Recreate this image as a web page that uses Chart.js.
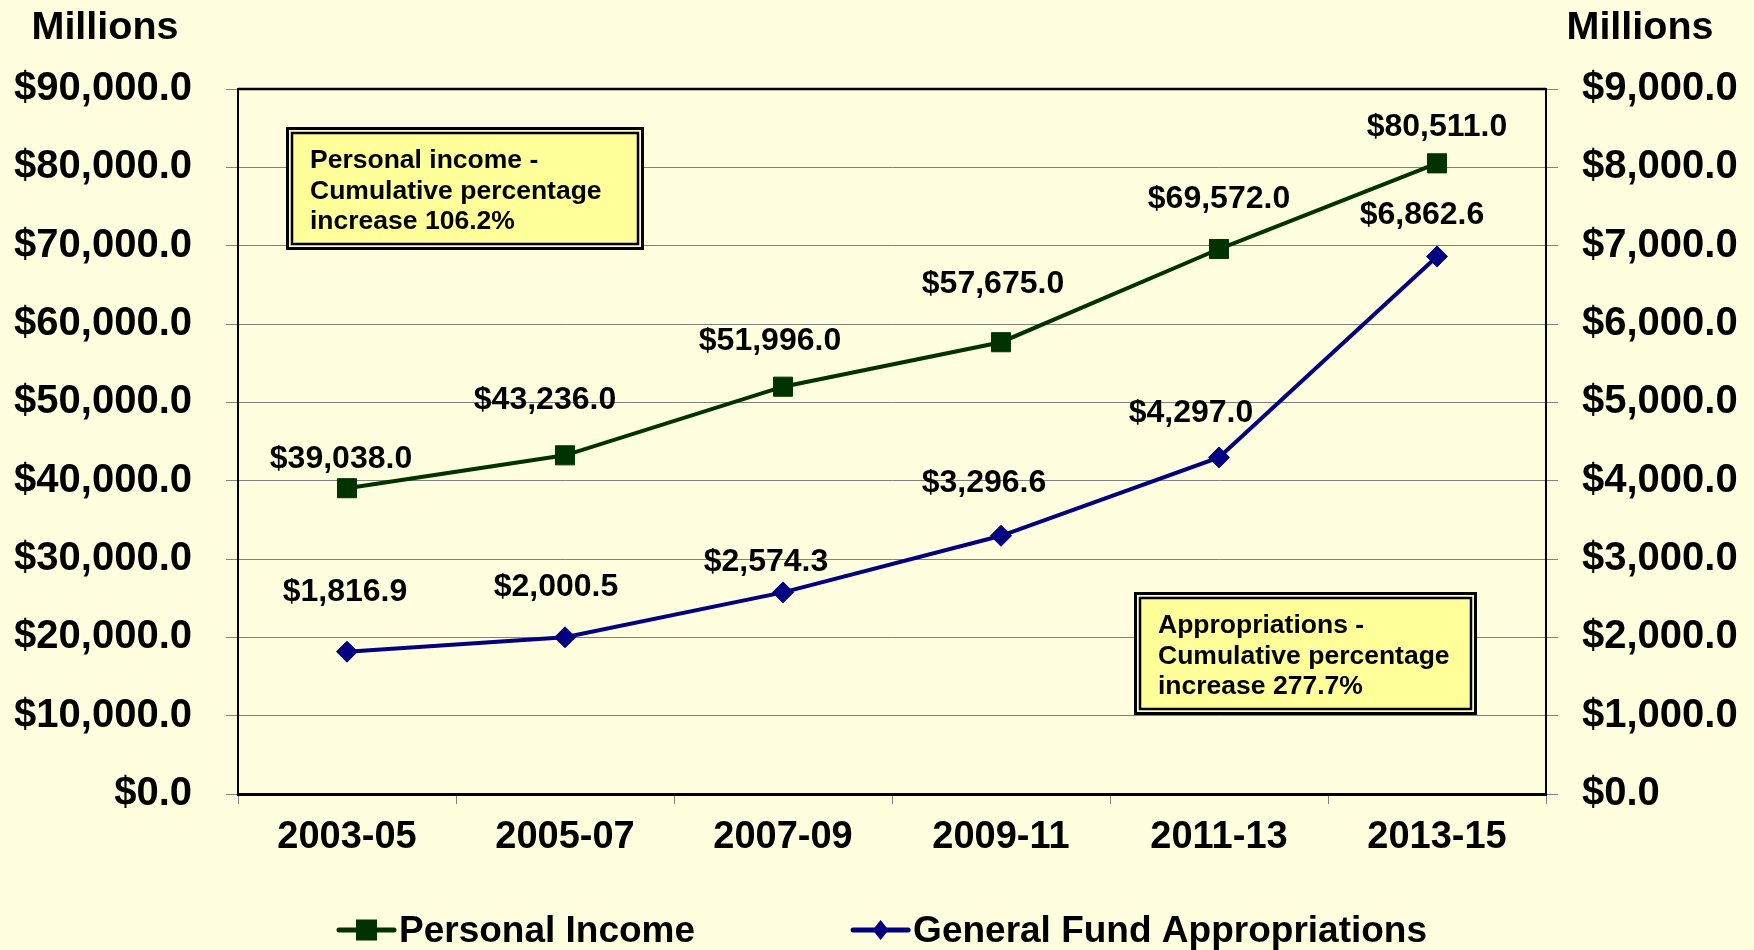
<!DOCTYPE html>
<html>
<head>
<meta charset="utf-8">
<script src="https://cdn.jsdelivr.net/npm/chart.js@4.4.0/dist/chart.umd.min.js"></script>
<style>
  html, body { margin: 0; padding: 0; background: #FFFFE0; }
  canvas { display: block; }
</style>
</head>
<body>
<canvas id="c" width="1754" height="950"></canvas>
<script>
// ---------- data ----------
const categories = ['2003-05', '2005-07', '2007-09', '2009-11', '2011-13', '2013-15'];
const personalIncome = [39038.0, 43236.0, 51996.0, 57675.0, 69572.0, 80511.0];
const appropriations = [1816.9, 2000.5, 2574.3, 3296.6, 4297.0, 6862.6];
const leftTicks = [0, 10000, 20000, 30000, 40000, 50000, 60000, 70000, 80000, 90000];
const rightTicks = [0, 1000, 2000, 3000, 4000, 5000, 6000, 7000, 8000, 9000];
const seriesNames = ['Personal Income', 'General Fund Appropriations'];
const unitLabel = 'Millions';
const noteIncome = ['Personal income -', 'Cumulative percentage', 'increase 106.2%'];
const noteApprop = ['Appropriations -', 'Cumulative percentage', 'increase 277.7%'];

// ---------- layout / style ----------
const FONT = "'Liberation Sans', Arial, Helvetica, sans-serif";
const GREEN = '#003300';
const BLUE = '#000080';
const GRID = '#808080';
// label offsets (px) relative to each point, as placed in the original
const incomeLabelOffsets = [[-6, -29], [-20, -55], [-13, -46], [-8, -58], [0, -50], [0, -36]];
const appropLabelOffsets = [[-2, -60], [-9, -50], [-17, -30], [-17, -53], [-28, -44], [-15, -41]];
const noteBoxes = [
  { x: 286, y: 127, w: 358, h: 123, lines: noteIncome },
  { x: 1134, y: 592, w: 343, h: 123, lines: noteApprop }
];

const fmt = v => '$' + Number(v).toLocaleString('en-US', { minimumFractionDigits: 1, maximumFractionDigits: 1 });

const plotFrame = {
  id: 'plotFrame',
  beforeDatasetsDraw(chart) {
    const { ctx, chartArea: a } = chart;
    ctx.save();
    ctx.strokeStyle = '#000';
    ctx.lineWidth = 2.5;
    ctx.beginPath();
    ctx.moveTo(a.left, a.top);
    ctx.lineTo(a.right, a.top);
    ctx.stroke();
    ctx.restore();
  }
};

const notes = {
  id: 'notes',
  afterDatasetsDraw(chart) {
    const ctx = chart.ctx;
    ctx.save();
    noteBoxes.forEach(b => {
      ctx.fillStyle = '#FFFFCC';
      ctx.fillRect(b.x, b.y, b.w, b.h);
      ctx.fillStyle = '#FFFF99';
      ctx.fillRect(b.x + 7, b.y + 7, b.w - 14, b.h - 14);
      ctx.strokeStyle = '#000';
      ctx.lineWidth = 3;
      ctx.strokeRect(b.x + 1.5, b.y + 1.5, b.w - 3, b.h - 3);
      ctx.lineWidth = 2.5;
      ctx.strokeRect(b.x + 6, b.y + 6, b.w - 12, b.h - 12);
      ctx.fillStyle = '#000';
      ctx.font = 'bold 26.5px ' + FONT;
      ctx.textAlign = 'left';
      ctx.textBaseline = 'alphabetic';
      b.lines.forEach((t, i) => ctx.fillText(t, b.x + 24, b.y + 41 + i * 30.5));
    });
    ctx.restore();
  }
};

const dataLabels = {
  id: 'dataLabels',
  afterDatasetsDraw(chart) {
    const ctx = chart.ctx;
    ctx.save();
    ctx.fillStyle = '#000';
    ctx.font = 'bold 32px ' + FONT;
    ctx.textAlign = 'center';
    ctx.textBaseline = 'middle';
    const offs = [incomeLabelOffsets, appropLabelOffsets];
    chart.data.datasets.forEach((ds, di) => {
      const meta = chart.getDatasetMeta(di);
      meta.data.forEach((pt, i) => {
        const o = offs[di][i];
        ctx.fillText(fmt(ds.data[i]), pt.x + o[0], pt.y + o[1]);
      });
    });
    ctx.restore();
  }
};

const unitTitles = {
  id: 'unitTitles',
  afterDraw(chart) {
    const ctx = chart.ctx;
    ctx.save();
    ctx.fillStyle = '#000';
    ctx.font = 'bold 39.5px ' + FONT;
    ctx.textAlign = 'center';
    ctx.textBaseline = 'alphabetic';
    ctx.fillText(unitLabel, 105, 39);
    ctx.fillText(unitLabel, 1640, 39);
    ctx.restore();
  }
};

const customLegend = {
  id: 'customLegend',
  afterDraw(chart) {
    const ctx = chart.ctx;
    ctx.save();
    ctx.font = 'bold 37px ' + FONT;
    const ds = chart.data.datasets;
    const w1 = ctx.measureText(ds[0].label).width;
    const w2 = ctx.measureText(ds[1].label).width;
    const lineLen = 55, gapText = 5, gapItems = 158;
    const total = lineLen + gapText + w1 + gapItems + lineLen + gapText + w2;
    let x = 883 - total / 2;
    const yMid = 930, yBase = 942;
    const items = [[ds[0], w1], [ds[1], w2]];
    items.forEach(([d, w], k) => {
      ctx.strokeStyle = d.borderColor;
      ctx.lineWidth = 5;
      ctx.lineCap = 'round';
      ctx.beginPath();
      ctx.moveTo(x, yMid);
      ctx.lineTo(x + lineLen, yMid);
      ctx.stroke();
      ctx.fillStyle = d.backgroundColor;
      const cx = x + lineLen / 2;
      if (k === 0) {
        ctx.fillRect(cx - 10.5, yMid - 10.5, 21, 21);
      } else {
        ctx.beginPath();
        ctx.moveTo(cx, yMid - 10);
        ctx.lineTo(cx + 8, yMid);
        ctx.lineTo(cx, yMid + 10);
        ctx.lineTo(cx - 8, yMid);
        ctx.closePath();
        ctx.fill();
      }
      ctx.fillStyle = '#000';
      ctx.textAlign = 'left';
      ctx.textBaseline = 'alphabetic';
      ctx.fillText(d.label, x + lineLen + gapText, yBase);
      x += lineLen + gapText + w + gapItems;
    });
    ctx.restore();
  }
};

const tickFontX = { family: FONT, size: 38, weight: 'bold' };
const tickFontY = { family: FONT, size: 40, weight: 'bold' };

new Chart(document.getElementById('c'), {
  type: 'line',
  data: {
    labels: categories,
    datasets: [
      {
        label: seriesNames[0],
        data: personalIncome,
        yAxisID: 'y',
        borderColor: GREEN,
        backgroundColor: GREEN,
        borderWidth: 4,
        tension: 0,
        pointStyle: 'rect',
        pointRadius: 13.5,
        pointBorderWidth: 1,
        pointBackgroundColor: GREEN,
        pointBorderColor: GREEN
      },
      {
        label: seriesNames[1],
        data: appropriations,
        yAxisID: 'y1',
        borderColor: BLUE,
        backgroundColor: BLUE,
        borderWidth: 4,
        tension: 0,
        pointStyle: 'rectRot',
        pointRadius: 10.5,
        pointBorderWidth: 1,
        pointBackgroundColor: BLUE,
        pointBorderColor: BLUE
      }
    ]
  },
  options: {
    responsive: false,
    animation: false,
    devicePixelRatio: 1,
    layout: { padding: { top: 89, left: 0, right: 0, bottom: 0 } },
    plugins: {
      legend: { display: false },
      tooltip: { enabled: false },
      title: { display: false }
    },
    scales: {
      x: {
        type: 'category',
        offset: true,
        grid: { display: true, drawOnChartArea: false, drawTicks: true, tickLength: 10, color: GRID, offset: true },
        border: { display: true, color: '#000', width: 3 },
        ticks: { color: '#000', font: tickFontX, padding: 11, maxRotation: 0, autoSkip: false },
        afterFit(s) { s.height = 156; }
      },
      y: {
        type: 'linear',
        position: 'left',
        min: 0,
        max: 90000,
        afterBuildTicks(s) { s.ticks = leftTicks.map(v => ({ value: v })); },
        grid: { color: GRID, lineWidth: 1, drawTicks: true, tickLength: 12 },
        border: { display: true, color: '#000', width: 2 },
        ticks: { color: '#000', font: tickFontY, padding: 34, callback: v => fmt(v) },
        afterFit(s) { s.width = 238; }
      },
      y1: {
        type: 'linear',
        position: 'right',
        min: 0,
        max: 9000,
        afterBuildTicks(s) { s.ticks = rightTicks.map(v => ({ value: v })); },
        grid: { color: GRID, lineWidth: 1, drawOnChartArea: false, drawTicks: true, tickLength: 12 },
        border: { display: true, color: '#000', width: 2 },
        ticks: { color: '#000', font: tickFontY, padding: 24, callback: v => fmt(v) },
        afterFit(s) { s.width = 208; }
      }
    }
  },
  plugins: [plotFrame, notes, dataLabels, unitTitles, customLegend]
});
</script>
</body>
</html>
